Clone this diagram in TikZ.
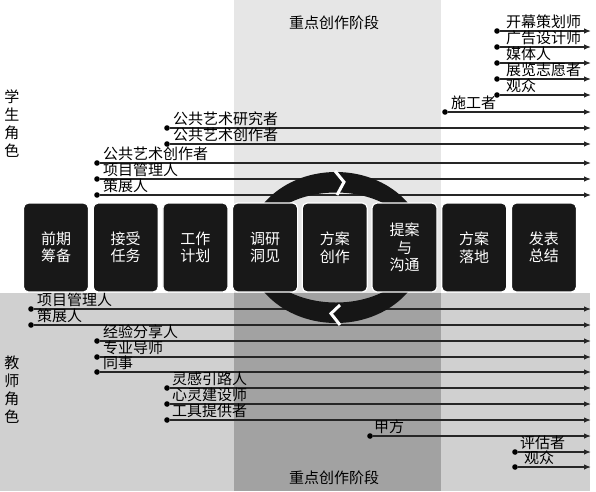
\documentclass[tikz,border=0pt]{standalone}
\usepackage{fontspec}
\setmainfont{Noto Sans CJK SC}
\usetikzlibrary{arrows.meta}
\definecolor{topband}{HTML}{E6E6E6}
\definecolor{botgray}{HTML}{D0D0D0}
\definecolor{botband}{HTML}{A2A2A2}
\definecolor{ringc}{HTML}{161616}
\definecolor{boxc}{HTML}{181818}
\definecolor{linec}{HTML}{262626}
\tikzset{
  roleline/.style={draw=linec, line width=1.2pt, -{Latex[length=7pt,width=5.5pt]}},
  roledot/.style={circle, fill=black, inner sep=0pt, minimum size=5.6pt},
  rolelabel/.style={anchor=base west, inner sep=0pt, font=\fontsize{15}{17}\selectfont},
  stagebox/.style={rectangle, rounded corners=5pt, fill=boxc, draw=white, line width=1.2pt,
    minimum width=65pt, minimum height=89pt, text=white, align=center,
    font=\fontsize{15}{17.5}\selectfont},
  phasetitle/.style={inner sep=0pt, font=\fontsize{15}{17}\selectfont},
  sidelabel/.style={inner sep=0pt, align=center, font=\fontsize{15}{18}\selectfont},
  chevron/.style={draw=white, line width=3pt, miter limit=10}
}
\begin{document}
\begin{tikzpicture}[x=1pt,y=-1pt]
\useasboundingbox (0,0) rectangle (596,491);
% backgrounds
\fill[topband] (234,0) rectangle (441,293);
\fill[botgray] (0,293) rectangle (590,491);
\fill[botband] (234,293) rectangle (441,491);
% student role lines
\foreach \yy/\xx/\dx/\t [count=\i] in {31/497/9/开幕策划师, 47/497/9/广告设计师, 63/497/9/媒体人, 79/497/9/展览志愿者, 95/497/9/观众, 112/445/6/施工者, 128/167/6/公共艺术研究者, 144/167/6/公共艺术创作者, 163/97/6/公共艺术创作者, 179/97/6/项目管理人, 195/97/6/策展人}{
  \node[roledot] (s\i) at (\xx,\yy) {};
  \coordinate (se\i) at (591,\yy);
  \draw[roleline] (s\i) -- (se\i);
  \node[rolelabel] (sl\i) at (\xx+\dx,\yy-3.5) {\t};
}
% teacher role lines
\foreach \yy/\xx/\dx/\t [count=\i] in {309/31/6/项目管理人, 325/31/6/策展人, 341/97/6/经验分享人, 357/97/6/专业导师, 372/97/6/同事, 388/167/5/灵感引路人, 404/167/5/心灵建设师, 420/167/5/工具提供者, 436/370/4/甲方, 452/515/5/评估者, 467/515/9/观众}{
  \node[roledot] (t\i) at (\xx,\yy) {};
  \coordinate (te\i) at (591,\yy);
  \draw[roleline] (t\i) -- (te\i);
  \node[rolelabel] (tl\i) at (\xx+\dx,\yy-3.5) {\t};
}
% ring
\fill[ringc, even odd rule] (336,247.5) ellipse [x radius=89, y radius=75.5]
  (336,247.5) ellipse [x radius=80, y radius=55];
\draw[chevron] (335,171) -- (344,182) -- (337,195);
\draw[chevron] (340,305) -- (331,313.5) -- (340,325);
% stage boxes
\node[stagebox] (b1) at (56,247.5) {前期\\筹备};
\node[stagebox] (b2) at (125.7,247.5) {接受\\任务};
\node[stagebox] (b3) at (195.4,247.5) {工作\\计划};
\node[stagebox] (b4) at (265.1,247.5) {调研\\洞见};
\node[stagebox] (b5) at (334.8,247.5) {方案\\创作};
\node[stagebox] (b6) at (404.5,247.5) {提案\\与\\沟通};
\node[stagebox] (b7) at (474.2,247.5) {方案\\落地};
\node[stagebox] (b8) at (543.9,247.5) {发表\\总结};
% titles
\node[phasetitle] (p1) at (334,23) {重点创作阶段};
\node[phasetitle] (p2) at (334,478) {重点创作阶段};
\node[sidelabel] (stu) at (12,124) {学\\生\\角\\色};
\node[sidelabel] (tea) at (12,390) {教\\师\\角\\色};
\end{tikzpicture}
\end{document}
